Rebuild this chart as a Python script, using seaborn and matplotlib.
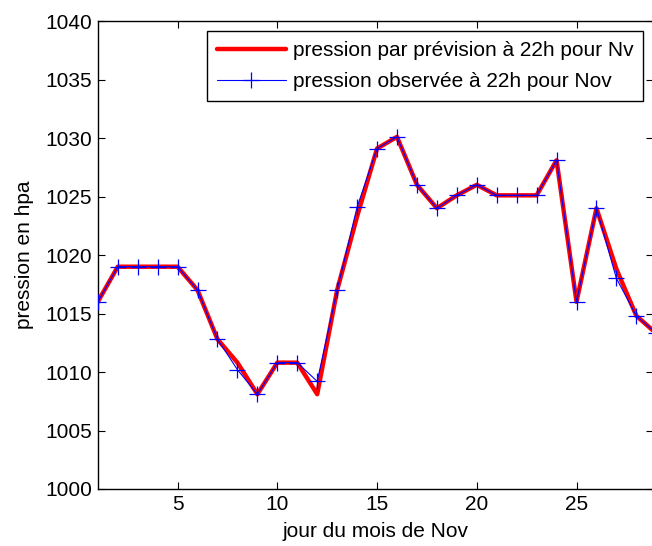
import matplotlib
matplotlib.use("Agg")
import matplotlib.pyplot as plt
import seaborn as sns
import pandas as pd

days = list(range(1, 30))
prevision = [1016, 1019, 1019, 1019, 1019, 1017, 1012.8, 1010.8, 1008.1, 1010.8,
             1010.8, 1008.1, 1017, 1023.3, 1029.1, 1030.1, 1026, 1024, 1025.1, 1026,
             1025.1, 1025.1, 1025.1, 1028.1, 1016, 1024, 1018.8, 1014.8, 1013.3]
observee = [1016, 1019, 1019, 1019, 1019, 1017, 1012.8, 1010.2, 1008.1, 1010.8,
            1010.8, 1009.2, 1017, 1024.1, 1029.1, 1030.1, 1026, 1024, 1025.1, 1026,
            1025.1, 1025.1, 1025.1, 1028.1, 1016, 1024, 1018, 1014.8, 1013.3]
xticks = [5, 10, 15, 20, 25]
yticks = [1000, 1005, 1010, 1015, 1020, 1025, 1030, 1035, 1040]

lab_prev = "pression par prévision à 22h pour Nv"
lab_obs = "pression observée à 22h pour Nov"

sns.set_style("white")
plt.rcParams['font.family'] = ['Liberation Sans', 'DejaVu Sans']
plt.rcParams['text.color'] = 'black'

df = pd.DataFrame({"jour": days, "prev": prevision, "obs": observee})

fig = plt.figure(figsize=(6.52, 5.46), dpi=100)
ax = fig.add_axes([0.150, 0.1044, 0.852, 0.8571])

sns.lineplot(data=df, x="jour", y="prev", ax=ax, color=(1, 0, 0), lw=3.2,
             label=lab_prev, zorder=2)
sns.lineplot(data=df, x="jour", y="obs", ax=ax, color=(0, 0, 1), lw=0.8,
             marker="+", markersize=11, markeredgewidth=0.9,
             markeredgecolor=(0, 0, 1), label=lab_obs, zorder=3)

fs = 15
ax.set_xlim(1, 28.85)
ax.set_ylim(1000, 1040)
ax.set_xticks(xticks)
ax.set_yticks(yticks)
ax.tick_params(direction="in", length=5, width=0.8, labelsize=fs,
               top=True, right=True, bottom=True, left=True, colors="black",
               pad=4)
for s in ax.spines.values():
    s.set_color("black")
    s.set_linewidth(1.0)
ax.set_xlabel("jour du mois de Nov", fontsize=fs, labelpad=6, color="black")
ax.set_ylabel("pression en hpa", fontsize=fs, labelpad=8, color="black")

leg = ax.legend(loc="upper right", fontsize=fs, frameon=True, fancybox=False,
                edgecolor="black", framealpha=1, borderpad=0.45, labelspacing=0.6,
                handlelength=3.3, handletextpad=0.35, borderaxespad=0.5)
leg.get_frame().set_linewidth(1.0)

fig.savefig("out.png", dpi=100)
